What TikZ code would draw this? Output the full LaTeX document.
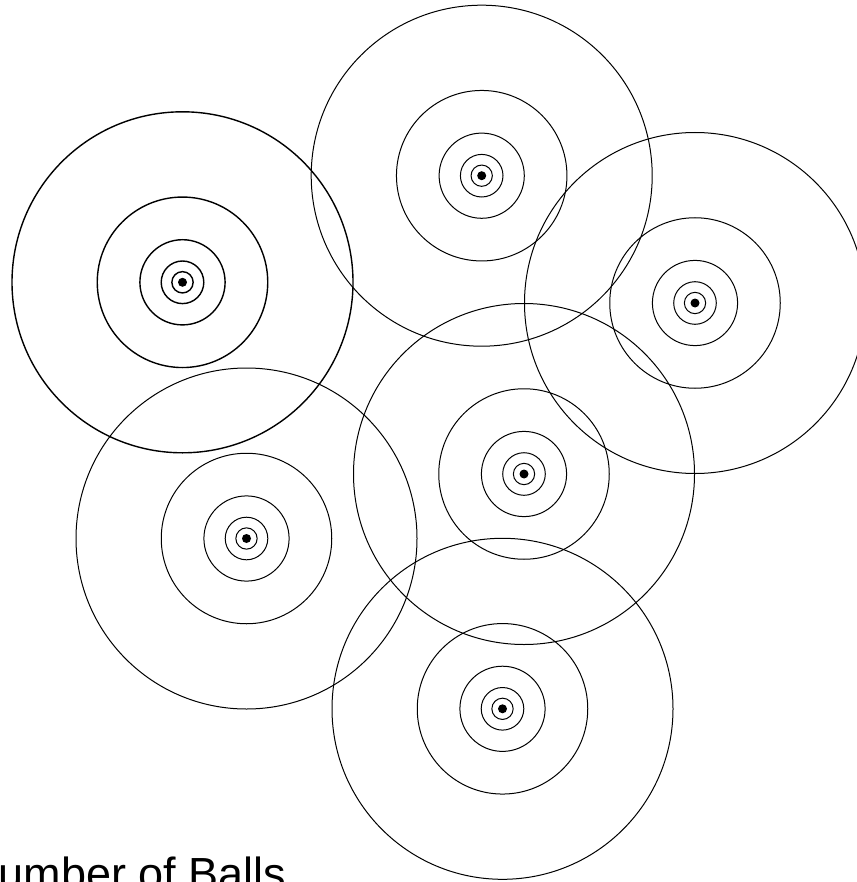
\documentclass[tikz,border=0pt]{standalone}
\usepackage{fontspec}
\setmainfont{Liberation Sans}
\usepackage{tikz}
\tikzset{ring/.style={draw=black,line width=1pt},bold ring/.style={draw=black,line width=1.4pt},core/.style={fill=black}}

\begin{document}
\begin{tikzpicture}[x=1pt,y=-1pt]
\useasboundingbox (0,0) rectangle (856,882);
\coordinate (ballA) at (182.5,282.3);
\coordinate (ballB) at (481.7,175.7);
\coordinate (ballC) at (695,303);
\coordinate (ballD) at (246.5,538.5);
\coordinate (ballE) at (524,474);
\coordinate (ballF) at (502.5,708.8);
\foreach \r in {170.5,85.25,42.6,21.3,10.65}
  \draw[bold ring] (ballA) circle[radius=\r];
\foreach \b in {ballB,ballC,ballD,ballE,ballF}
  \foreach \r in {170.5,85.25,42.6,21.3,10.65}
    \draw[ring] (\b) circle[radius=\r];
\foreach \b in {ballA,ballB,ballC,ballD,ballE,ballF}
  \fill[core] (\b) circle[radius=4.5];
\node[anchor=base west,inner sep=0pt,font=\fontsize{45}{52}\selectfont] (label) at (-34,889.5) {Number of Balls};
\end{tikzpicture}
\end{document}
